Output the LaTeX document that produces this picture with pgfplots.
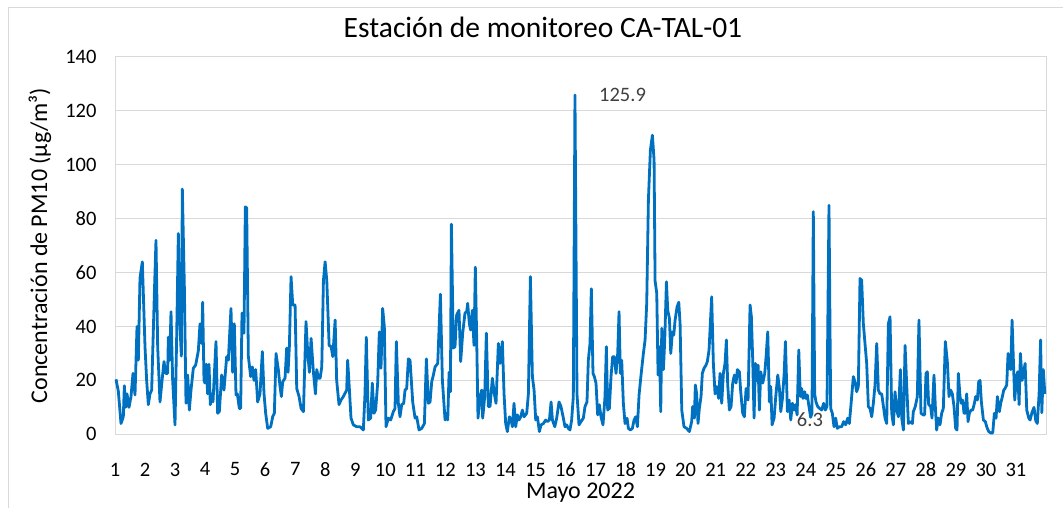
\documentclass[border=0pt]{standalone}
\usepackage{fontspec}
\setmainfont{Carlito}
\usepackage{pgfplots}
\pgfplotsset{compat=1.18}
\definecolor{lineblue}{RGB}{0,112,192}
\definecolor{gridgray}{RGB}{217,217,217}
\definecolor{labgray}{RGB}{64,64,64}
\begin{document}
\begin{tikzpicture}
\useasboundingbox (0pt,0pt) rectangle (1063pt,508pt);
\draw[gridgray, line width=1pt] (8.5pt,0pt) -- (8.5pt,500.5pt) -- (1063pt,500.5pt);
\begin{axis}[at={(115pt,73.7pt)}, anchor=south west, scale only axis,
  width=931pt, height=377.3pt,
  xmin=1, xmax=32, ymin=0, ymax=140,
  xtick={1,...,31}, ytick={0,20,...,140},
  ymajorgrids, grid style={gridgray, line width=1pt},
  axis line style={gridgray, line width=1pt},
  major tick length=0pt,
  tick label style={font=\fontsize{20.5}{24}\selectfont, text=black},
  /pgf/number format/assume math mode=true,
  yticklabel style={xshift=-15pt},
  xticklabel style={yshift=-25pt},
  clip=false]
\addplot[lineblue, line width=2.8pt, line join=round] coordinates {
(1.033,20.4)(1.111,16)(1.200,4)(1.277,6.5)(1.311,18)(1.355,10)(1.400,15)(1.466,10)(1.533,14)(1.599,22.6)(1.666,14.6)(1.733,40)(1.777,27.5)(1.832,58)(1.910,64)(1.999,32.5)(2.054,20)(2.110,11)(2.165,15)(2.221,16.4)(2.310,52)(2.365,72)(2.421,32.5)(2.498,12)(2.576,21)(2.632,27)(2.687,22.6)(2.754,22.6)(2.776,36)(2.820,27.5)(2.865,45.5)(2.920,20)(2.998,3.5)(3.053,36)(3.109,74.5)(3.164,40)(3.209,29)(3.242,91)(3.309,55)(3.364,11.5)(3.420,22)(3.475,9)(3.531,16.4)(3.608,24.5)(3.686,25.7)(3.775,31)(3.830,41)(3.886,33.7)(3.919,49)(3.963,20)(3.997,19)(4.041,26)(4.085,15)(4.130,26)(4.174,11)(4.219,15)(4.263,12)(4.307,22)(4.363,34.4)(4.418,7.8)(4.474,8.4)
(4.552,22)(4.629,16.4)(4.718,28.8)(4.774,27.5)(4.862,46.7)(4.918,23)(4.973,41)(5.029,14.6)(5.073,15)(5.140,9.6)(5.184,9.6)(5.229,45)(5.295,37.5)(5.340,84.4)(5.384,84)(5.440,29)(5.517,21.4)(5.573,25)(5.628,20)(5.684,24)(5.750,12)(5.828,15)(5.906,30.7)(5.962,15)(6.017,7.8)(6.084,2.2)(6.184,2.8)(6.250,6.5)(6.306,7.8)(6.362,30)(6.439,24)(6.495,17.7)(6.540,14)(6.584,19.5)(6.662,20.8)(6.716,32)(6.762,23)(6.806,32.5)(6.862,58.5)(6.918,48)(6.996,48)(7.051,17)(7.129,14)(7.196,9.6)(7.274,8.4)(7.360,41.8)(7.418,30)(7.474,23)(7.529,35.6)(7.607,23)(7.674,15)(7.718,24)(7.774,20.8)(7.830,20.8)(7.885,25)(7.940,57)(7.996,64)(8.052,57)(8.130,33)(8.196,32.5)(8.252,28.8)(8.330,42.4)
(8.381,20)(8.459,11)(8.525,12.7)(8.603,14)(8.714,16.4)(8.747,27.5)(8.803,17)(8.858,6)(8.936,3.5)(9.047,2.8)(9.158,2.8)(9.269,1.6)(9.324,15)(9.368,36)(9.435,5.3)(9.513,6)(9.568,19)(9.624,7.8)(9.679,9)(9.746,19)(9.801,38)(9.857,24.5)(9.912,46.7)(9.968,40)(10.024,2.8)(10.102,6)(10.179,5.3)(10.268,8.4)(10.324,9.6)(10.368,34.4)(10.435,11.5)(10.490,6.5)(10.546,11)(10.613,11.5)(10.657,16.4)(10.713,17)(10.768,28)(10.824,27.5)(10.913,12)(10.991,6)(11.046,6.5)(11.124,1.6)(11.213,2.2)(11.302,4)(11.368,28)(11.435,11.5)(11.490,12)(11.546,19.5)(11.602,22)(11.657,25)(11.746,26.3)(11.835,52)(11.901,20)(11.990,5.3)(12.035,7.8)(12.079,5.3)(12.124,23)(12.168,15.8)(12.201,78)
(12.265,32)(12.321,32.5)(12.377,44.3)(12.454,46)(12.510,27)(12.577,37.5)(12.654,45)(12.710,45.5)(12.743,48.6)(12.799,41)(12.843,38.7)(12.899,46)(12.954,33)(12.998,62)(13.043,35.6)(13.087,6)(13.154,14)(13.209,16.4)(13.243,6)(13.310,14)(13.365,37.5)(13.431,10.3)(13.487,10.3)(13.565,20.8)(13.632,15)(13.687,11.5)(13.765,33.7)(13.820,26.3)(13.898,34.4)(13.954,15)(14.009,4)(14.065,1)(14.131,6.5)(14.187,5.3)(14.232,2.8)(14.286,11.5)(14.342,2.8)(14.398,7.2)(14.453,5.3)(14.509,6.5)(14.565,9)(14.620,6.5)(14.709,7.8)(14.765,15)(14.831,58.5)(14.898,21.4)(14.954,16.4)(15.009,5.3)(15.065,6.5)(15.131,1)(15.187,3.5)(15.265,4)(15.343,5.3)(15.398,4.7)(15.465,5.3)(15.520,12)(15.565,5.3)(15.643,2.8)(15.707,6)(15.784,12)(15.851,10.3)(15.929,6)(15.984,2.8)
(16.039,3.5)(16.094,2.2)(16.150,1.6)(16.205,5.3)(16.261,14)(16.316,125.9)(16.383,15)(16.450,3.5)(16.516,4.7)(16.594,6)(16.650,10.3)(16.716,12)(16.761,27.5)(16.816,33.7)(16.861,54)(16.916,22.6)(16.961,21.4)(17.016,19)(17.072,7.2)(17.127,11)(17.183,6.5)(17.249,3.5)(17.316,14)(17.361,32.5)(17.405,9)(17.461,9.6)(17.516,21.4)(17.572,28.8)(17.627,28.8)(17.683,22.6)(17.739,30)(17.783,45.5)(17.827,22.6)(17.872,27.5)(17.927,11.5)(17.983,4)(18.050,6)(18.094,2.2)(18.161,1.6)(18.228,2.2)(18.283,5.3)(18.339,6.5)(18.394,2.8)(18.450,14.6)(18.516,22)(18.594,30)(18.650,35)(18.705,48.6)(18.761,87)(18.827,105.4)(18.894,111)(18.950,101.7)(18.983,57)(19.039,52.3)(19.083,22)(19.128,32.5)(19.172,8.4)(19.206,39.3)(19.261,24)(19.305,35)(19.361,56.6)(19.405,46)(19.461,43)(19.505,30)(19.561,38)(19.605,36.8)(19.650,42.4)(19.716,47.3)(19.772,49)(19.816,41)(19.872,9)
(19.946,2.8)(20.035,2.2)(20.124,1)(20.202,4.7)(20.235,10.3)(20.291,6)(20.324,18.3)(20.368,15)(20.413,4)(20.457,9.6)(20.513,14)(20.557,22.6)(20.613,24.5)(20.680,25.7)(20.724,27)(20.780,31.3)(20.868,51)(20.924,26.3)(20.980,15)(21.035,17.7)(21.102,13.3)(21.146,22.6)(21.202,11.5)(21.257,22.6)(21.313,26.3)(21.357,35)(21.402,18.3)(21.457,9)(21.513,10.3)(21.568,19)(21.624,22)(21.679,19)(21.724,24)(21.790,23.2)(21.835,15.8)(21.901,7.8)(21.957,6.5)(22.013,17)(22.079,12.7)(22.146,48)(22.190,43.6)(22.235,27.5)(22.279,6)(22.324,26.3)(22.368,20)(22.413,25.7)(22.457,9)(22.501,23.2)(22.568,19)(22.635,22.6)(22.679,28.8)(22.735,38)(22.790,12)(22.835,17.7)(22.879,3.5)(22.946,6)(23.002,14)(23.068,22)(23.124,17)(23.168,8.4)(23.224,13.3)(23.279,22)(23.324,34.4)(23.390,8.4)(23.446,12.7)(23.501,5.3)(23.557,11.5)(23.613,9)(23.657,11)(23.713,7.2)(23.768,31.3)
(23.819,14)(23.863,17)(23.908,13.3)(23.963,15.8)(24.008,13.3)(24.052,14.6)(24.108,10.3)(24.163,6.3)(24.208,7.8)(24.252,82.6)(24.297,15)(24.341,12)(24.397,10.3)(24.463,9.6)(24.530,9)(24.597,11.5)(24.652,9)(24.707,10.3)(24.774,85)(24.830,9.6)(24.885,7.8)(24.941,2.8)(24.996,6)(25.051,2.2)(25.118,2.8)(25.196,2.8)(25.263,4.7)(25.329,3.5)(25.396,6)(25.451,4)(25.507,11)(25.585,21.4)(25.640,19.5)(25.696,15.8)(25.751,17.7)(25.807,57.8)(25.862,57.2)(25.918,41)(25.973,33.7)(26.029,26.3)(26.085,10.3)(26.140,9.6)(26.196,6.5)(26.251,11.5)(26.307,18.3)(26.363,33.7)(26.418,16.4)(26.474,15)(26.529,15)(26.640,6)(26.696,4)(26.751,41)(26.807,43.6)(26.862,7.8)(26.918,3.5)(26.973,15.8)(27.029,9)(27.085,6.5)(27.151,24)(27.196,6)(27.252,1.6)(27.307,33)(27.374,15)(27.418,4)(27.485,4.7)(27.551,4)
(27.582,8.4)(27.648,10.3)(27.715,14)(27.770,42.4)(27.837,7.8)(27.915,7.2)(27.959,7.2)(28.004,22.6)(28.048,23.2)(28.093,11)(28.159,10.3)(28.204,6)(28.270,22)(28.315,10.3)(28.359,1.6)(28.414,6)(28.470,3.5)(28.526,7.8)(28.581,9.6)(28.648,34.4)(28.714,27)(28.770,14)(28.826,16.4)(28.881,15)(28.937,10.3)(28.992,2.2)(29.037,1.6)(29.081,22.6)(29.137,14)(29.181,11.5)(29.226,12.7)(29.270,7.8)(29.315,7.8)(29.359,15)(29.404,4.7)(29.448,7.8)(29.504,9)(29.559,9)(29.615,11.5)(29.659,14)(29.715,12.7)(29.759,19.5)(29.804,20)(29.848,12)(29.915,5.3)(29.981,4.7)(30.026,2.8)(30.092,1)(30.159,0.5)(30.226,0.5)(30.281,7.8)(30.337,6)(30.381,14)(30.448,8.4)(30.492,11.5)(30.548,14)(30.592,16.4)(30.637,17)(30.692,18.3)(30.737,30)(30.781,25)(30.826,24)(30.870,42.4)(30.915,27)(30.959,12.7)(31.015,21.4)(31.059,23.2)(31.104,11)(31.148,30)(31.204,20)(31.248,22.6)(31.304,26.3)(31.359,9)(31.426,6)(31.470,5.3)
(31.53,8)(31.60,10)(31.66,5)(31.71,4)(31.77,15)(31.82,35)(31.86,8)(31.91,24)(31.96,15)
};
\node[text=labgray, font=\fontsize{20.5}{24}\selectfont] at (axis cs:17.90,125.9) {125.9};
\node[text=labgray, font=\fontsize{20.5}{24}\selectfont] at (axis cs:24.14,5.3) {6.3};
\end{axis}
\node[anchor=base, font=\fontsize{29.5}{34}\selectfont] at (543pt,470pt) {Estación de monitoreo CA-TAL-01};
\node[anchor=base, font=\fontsize{24}{28}\selectfont] at (580.5pt,9pt) {Mayo 2022};
\node[rotate=90, anchor=center, font=\fontsize{24}{28}\selectfont] at (40pt,262.4pt) {Concentración de PM10 (µg/m³)};
\end{tikzpicture}
\end{document}
